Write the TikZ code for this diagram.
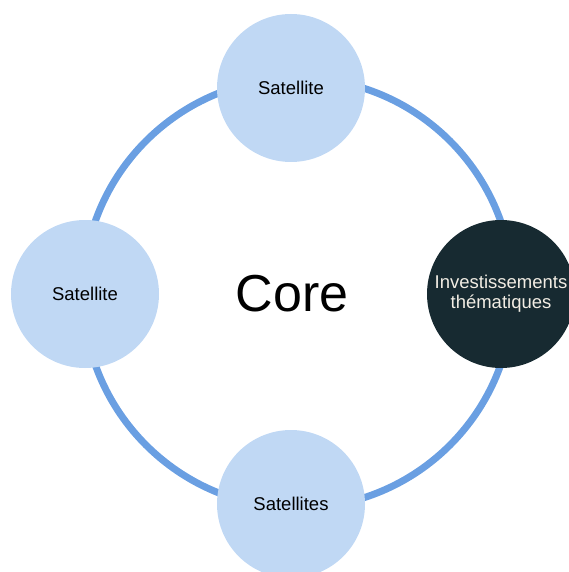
\documentclass[tikz,border=0pt]{standalone}
\usepackage{fontspec}
\setmainfont{Liberation Sans}
\definecolor{ringblue}{HTML}{6A9FE2}
\definecolor{satfill}{HTML}{C0D8F4}
\definecolor{darkfill}{HTML}{172A31}
\definecolor{lighttext}{HTML}{F2EDE4}
\tikzset{
  sat/.style={circle,fill=satfill,minimum size=148pt,inner sep=0pt,font=\fontsize{18.5}{20}\selectfont,align=center},
  theme/.style={sat,fill=darkfill,text=lighttext,font=\fontsize{18.5}{20}\selectfont}
}
\begin{document}
\begin{tikzpicture}[x=1pt,y=-1pt]
		\useasboundingbox (0,0) rectangle (569,572);
		\coordinate (hub) at (298,293);
		\draw [ringblue,line width=7pt] (hub) circle (215);
		\node (core) at (292,294) {\fontsize{52}{52}\selectfont Core};
		
		\node [sat] (top) at (291,88) {Satellite};
		\node [sat] (left) at (85,294) {Satellite};
		\node [sat] (bottom) at (291,504) {Satellites};
		\node [theme] (right) at (501,294) {Investissements\\th\'ematiques};
		\end{tikzpicture}
\end{document}
